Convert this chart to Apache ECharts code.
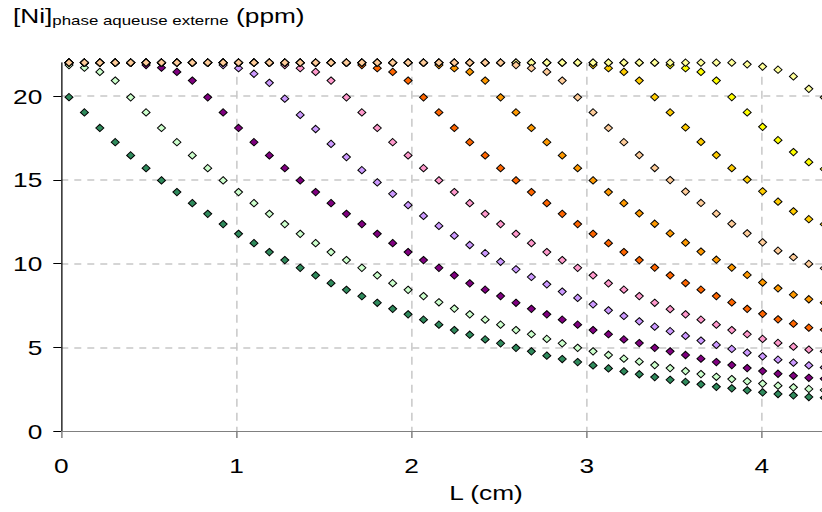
<!DOCTYPE html>
<html><head><meta charset="utf-8">
<script src="https://cdn.jsdelivr.net/npm/echarts@6/dist/echarts.min.js"></script>
<style>
html,body{margin:0;padding:0;background:#fff;overflow:hidden;width:822px;height:512px;}
#wrap{width:822px;height:512px;overflow:hidden;position:relative;background:#fff;}
#chart{width:657.6px;height:512px;transform:scaleX(1.25);transform-origin:0 0;}
</style></head><body>
<div id="wrap"><div id="chart"></div></div>
<script>
// L (cm) : positions of the 50 points
const L = [0.044,0.132,0.22,0.308,0.396,0.484,0.572,0.66,0.748,0.836,
           0.924,1.012,1.1,1.188,1.276,1.364,1.452,1.54,1.628,1.716,
           1.804,1.892,1.98,2.068,2.156,2.244,2.332,2.42,2.508,2.596,
           2.684,2.772,2.86,2.948,3.036,3.124,3.212,3.3,3.388,3.476,
           3.564,3.652,3.74,3.828,3.916,4.004,4.092,4.18,4.268,4.356];

const xTicks = [0, 1, 2, 3, 4];
const yTicks = [0, 5, 10, 15, 20];

const profilVertFonce = [19.94,19.03,18.1,17.25,16.46,15.7,14.97,14.27,13.61,12.97,
  12.36,11.78,11.22,10.69,10.21,9.75,9.3,8.83,8.43,8.05,
  7.66,7.3,6.97,6.65,6.35,6.03,5.75,5.47,5.24,4.97,
  4.76,4.5,4.3,4.12,3.92,3.74,3.56,3.39,3.22,3.06,
  2.93,2.79,2.64,2.55,2.43,2.31,2.21,2.13,2.03,1.99];

const profilVertClair = [21.86,21.7,21.45,20.93,19.93,19.03,18.1,17.25,16.46,15.7,
  14.97,14.27,13.61,12.97,12.36,11.78,11.22,10.69,10.21,9.75,
  9.3,8.83,8.43,8.06,7.69,7.31,6.97,6.65,6.35,6.03,
  5.78,5.5,5.24,4.97,4.76,4.54,4.32,4.14,3.94,3.76,
  3.58,3.4,3.24,3.1,2.97,2.83,2.71,2.61,2.51,2.45];

const profilViolet = [22,22,22,22,22,21.86,21.7,21.45,20.93,19.93,
  19.03,18.1,17.25,16.46,15.7,14.97,14.27,13.61,12.97,12.36,
  11.78,11.22,10.69,10.21,9.75,9.3,8.82,8.44,8.06,7.66,
  7.3,6.97,6.65,6.35,6.03,5.78,5.47,5.25,4.97,4.76,
  4.54,4.32,4.12,3.94,3.76,3.58,3.42,3.3,3.18,3.12];

const profilLavande = [22,22,22,22,22,22,22,22,22,22,
  21.86,21.67,21.34,20.8,19.85,18.88,18.04,17.15,16.36,15.58,
  14.85,14.17,13.49,12.85,12.25,11.67,11.11,10.62,10.11,9.66,
  9.2,8.76,8.33,7.95,7.57,7.21,6.87,6.55,6.23,5.96,
  5.68,5.4,5.14,4.9,4.68,4.46,4.26,4.08,3.92,3.8];

const profilRose = [22,22,22,22,22,22,22,22,22,22,
  22,22,22,22,21.86,21.67,21.45,20.93,19.93,19.03,
  18.1,17.25,16.46,15.7,14.97,14.27,13.61,12.97,12.36,11.78,
  11.22,10.69,10.21,9.75,9.3,8.82,8.44,8.06,7.66,7.28,
  6.97,6.65,6.35,6.03,5.78,5.5,5.26,5.04,4.86,4.76];

const profilOrangeFonce = [22,22,22,22,22,22,22,22,22,22,
  22,22,22,22,22,22,22,22,22,21.86,
  21.67,21.45,20.93,19.93,19.03,18.1,17.25,16.46,15.7,14.97,
  14.27,13.61,12.97,12.36,11.78,11.22,10.69,10.21,9.76,9.3,
  8.84,8.44,8.06,7.68,7.3,7.0,6.67,6.41,6.17,6.05];

const profilOrange = [22,22,22,22,22,22,22,22,22,22,
  22,22,22,22,22,22,22,22,22,22,
  22,22,22,22,21.86,21.67,21.45,20.93,19.93,19.03,
  18.1,17.25,16.46,15.7,14.97,14.27,13.61,13.0,12.38,11.8,
  11.25,10.72,10.23,9.76,9.32,8.87,8.52,8.14,7.87,7.66];

const profilPeche = [22,22,22,22,22,22,22,22,22,22,
  22,22,22,22,22,22,22,22,22,22,
  22,22,22,22,22,22,22,22,22,21.86,
  21.67,21.45,20.93,19.93,19.03,18.1,17.25,16.48,15.71,14.99,
  14.3,13.62,12.98,12.38,11.81,11.27,10.77,10.38,9.98,9.72];

const profilOr = [22,22,22,22,22,22,22,22,22,22,
  22,22,22,22,22,22,22,22,22,22,
  22,22,22,22,22,22,22,22,22,22,
  22,22,22,22,21.86,21.67,21.45,20.93,19.95,19.03,
  18.13,17.27,16.48,15.7,15.02,14.32,13.7,13.12,12.65,12.35];

const profilJaune = [22,22,22,22,22,22,22,22,22,22,
  22,22,22,22,22,22,22,22,22,22,
  22,22,22,22,22,22,22,22,22,22,
  22,22,22,22,22,22,22,22,22,21.86,
  21.67,21.45,20.93,19.95,19.03,18.17,17.37,16.66,16.06,15.65];

const profilJauneClair = [22,22,22,22,22,22,22,22,22,22,
  22,22,22,22,22,22,22,22,22,22,
  22,22,22,22,22,22,22,22,22,22,
  22,22,22,22,22,22,22,22,22,22,
  22,22,22,22,21.9,21.77,21.58,21.18,20.44,19.93];

// drawing order (last one on top)
const seriesDefs = [
  {name: 'vert foncé', values: profilVertFonce, color: '#2f8a5c'},
  {name: 'vert clair', values: profilVertClair, color: '#ccffcc'},
  {name: 'violet', values: profilViolet, color: '#800080'},
  {name: 'lavande', values: profilLavande, color: '#cc99ff'},
  {name: 'rose', values: profilRose, color: '#ff99cc'},
  {name: 'orange foncé', values: profilOrangeFonce, color: '#ff6600'},
  {name: 'orange', values: profilOrange, color: '#ff9900'},
  {name: 'or', values: profilOr, color: '#ffcc00'},
  {name: 'jaune', values: profilJaune, color: '#ffff00'},
  {name: 'jaune clair', values: profilJauneClair, color: '#ffff99'},
  {name: 'pêche', values: profilPeche, color: '#ffcc99'}
];

const SX = 1.25;               // horizontal stretch of the whole picture
const FONT = "'Liberation Sans', Arial, sans-serif";
const PX_PER_CM = 175.15;      // final pixels per cm
const X_MAX = 4.85;

const chart = echarts.init(document.getElementById('chart'), null, {renderer: 'svg', width: 657.6, height: 512});

const option = {
  animation: false,
  backgroundColor: '#ffffff',
  grid: {
    left: 61.3 / SX, top: 62.7, width: X_MAX * PX_PER_CM / SX, height: 368.3,
    containLabel: false, outerBoundsMode: 'none'
  },
  graphic: [{
    type: 'text', left: 13 / SX, top: 5, z: 100,
    style: {
      text: '{a|[Ni]}{b|phase aqueuse externe}{a| (ppm)}',
      rich: {
        a: {fontSize: 21, fontFamily: FONT, fill: '#000', lineHeight: 22, padding: [0, 0, 6, 0], verticalAlign: 'top'},
        b: {fontSize: 13.5, fontFamily: FONT, fill: '#000', lineHeight: 15, verticalAlign: 'bottom'}
      }
    }
  }],
  xAxis: {
    type: 'value', min: 0, max: X_MAX, interval: 1,
    name: 'L (cm)', nameLocation: 'middle', nameGap: 51,
    nameTextStyle: {fontSize: 21, color: '#000', fontFamily: FONT},
    axisLine: {show: true, onZero: false, lineStyle: {color: '#808080', width: 1}},
    axisTick: {show: true, length: 7, customValues: xTicks, lineStyle: {color: '#808080', width: 1.2}},
    axisLabel: {fontSize: 21, color: '#000', fontFamily: FONT, margin: 24, customValues: xTicks},
    splitLine: {show: true, showMinLine: false,
      lineStyle: {color: '#c8c8c8', width: 1.5 / SX, type: [8, 6]}}
  },
  yAxis: {
    type: 'value', min: 0, max: 22, interval: 5,
    axisLine: {show: true, onZero: false, lineStyle: {color: '#000', width: 1}},
    axisTick: {show: true, length: 8 / SX, customValues: yTicks, lineStyle: {color: '#000', width: 1}},
    axisLabel: {fontSize: 21, color: '#000', fontFamily: FONT, margin: 19 / SX, customValues: yTicks},
    splitLine: {show: true, showMinLine: false,
      lineStyle: {color: '#c8c8c8', width: 1.5, type: [7 / SX, 6 / SX]}}
  },
  series: seriesDefs.map(s => ({
    name: s.name,
    type: 'scatter',
    clip: false,
    symbol: 'diamond',
    symbolSize: [6.4, 7.4],
    itemStyle: {color: s.color, borderColor: '#000', borderWidth: 0.9, opacity: 1},
    emphasis: {disabled: true},
    data: L.map((x, i) => [x, s.values[i]])
  }))
};
chart.setOption(option);
</script>
</body></html>
